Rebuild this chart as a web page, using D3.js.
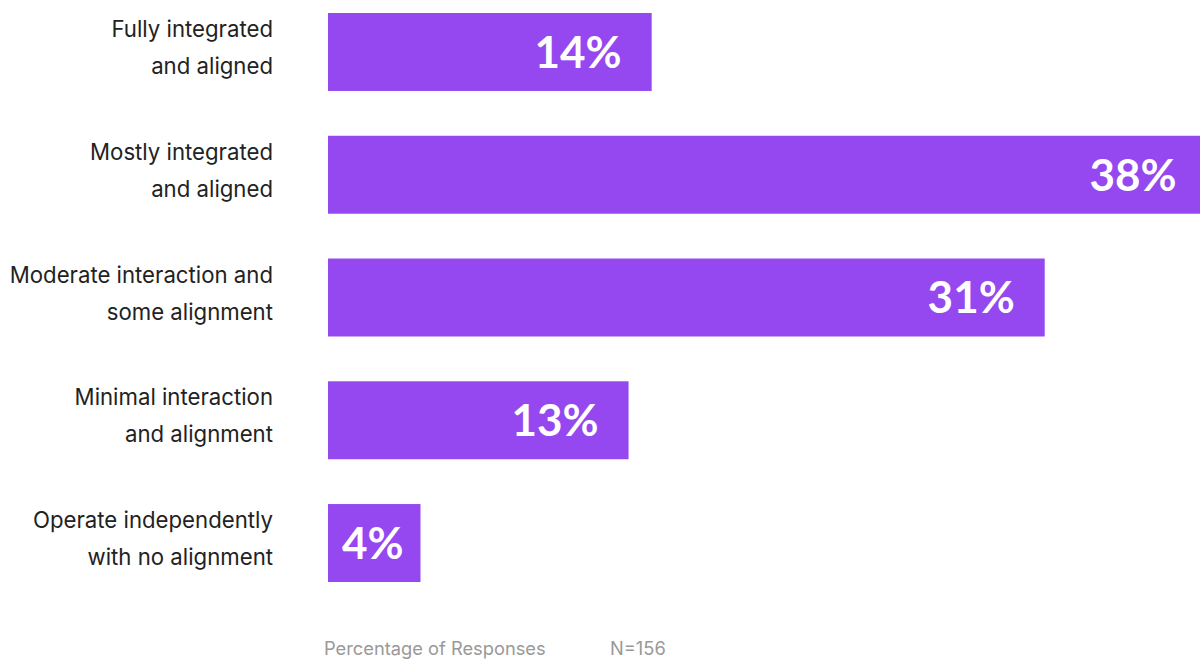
<!DOCTYPE html>
<html>
<head>
<meta charset="utf-8">
<script src="https://cdn.jsdelivr.net/npm/d3@7"></script>
<style>
  html, body { margin: 0; padding: 0; background: #fff; }
  #chart { width: 1200px; height: 659px; overflow: hidden; }
</style>
</head>
<body>
<div id="chart"></div>
<script>
// Integration / alignment survey, N=156

const categories = [
  ["Fully integrated", "and aligned"],
  ["Mostly integrated", "and aligned"],
  ["Moderate interaction and", "some alignment"],
  ["Minimal interaction", "and alignment"],
  ["Operate independently", "with no alignment"]
];
const values = [14, 38, 31, 13, 4];
const axisTitle = "Percentage of Responses";
const sampleNote = "N=156";

const width = 1200;
const height = 659;

const svg = d3.select("#chart")
  .append("svg")
  .attr("width", width)
  .attr("height", height);

// --- SCALES ---
const x = d3.scaleLinear()
  .domain([0, 38])
  .range([328, 328 + 38 * 23.12]);

const y = d3.scaleBand()
  .domain(d3.range(categories.length))
  .range([13, 582])
  .paddingInner(0.365)
  .paddingOuter(0);

const rows = categories.map((c, i) => ({ lines: c, value: values[i], i }));

// --- BARS ---
svg.append("g")
  .selectAll("rect")
  .data(rows)
  .join("rect")
  .attr("x", x(0))
  .attr("y", d => y(d.i))
  .attr("width", d => x(d.value) - x(0))
  .attr("height", y.bandwidth())
  .attr("fill", "#9548f0");

// --- VALUE LABELS ---
svg.append("g")
  .selectAll("text")
  .data(rows)
  .join("text")
  .attr("y", d => y(d.i) + y.bandwidth() / 2)
  .attr("dy", "0.36em")
  .attr("text-anchor", "end")
  .style("font-family", "Lato, 'Open Sans', sans-serif")
  .style("font-weight", 700)
  .style("font-size", "44px")
  .style("fill", "#fff")
  .text(d => d.value + "%")
  .each(function (d) {
    const w = this.getComputedTextLength();
    const end = Math.max(x(d.value) - 30, x(0) + 14 + w);
    d3.select(this).attr("x", end);
  });

// --- CATEGORY LABELS ---
const labels = svg.append("g")
  .selectAll("text")
  .data(rows)
  .join("text")
  .attr("text-anchor", "end")
  .style("font-family", "Inter, 'Noto Sans', sans-serif")
  .style("font-size", "22.2px")
  .style("fill", "#222");

labels.selectAll("tspan")
  .data(d => d.lines.map((t, k) => ({ t, k, d })))
  .join("tspan")
  .attr("x", 273)
  .attr("y", e => y(e.d.i) + y.bandwidth() / 2 + (e.k === 0 ? -15 : 22))
  .text(e => e.t);

// --- AXIS TITLE ---
svg.append("text")
  .attr("x", 324)
  .attr("y", 655)
  .style("font-family", "Inter, 'Noto Sans', sans-serif")
  .style("font-size", "18.3px")
  .style("fill", "#999")
  .text(axisTitle);

svg.append("text")
  .attr("x", 610)
  .attr("y", 655)
  .style("font-family", "Inter, 'Noto Sans', sans-serif")
  .style("font-size", "18.3px")
  .style("fill", "#999")
  .text(sampleNote);
</script>
</body>
</html>
